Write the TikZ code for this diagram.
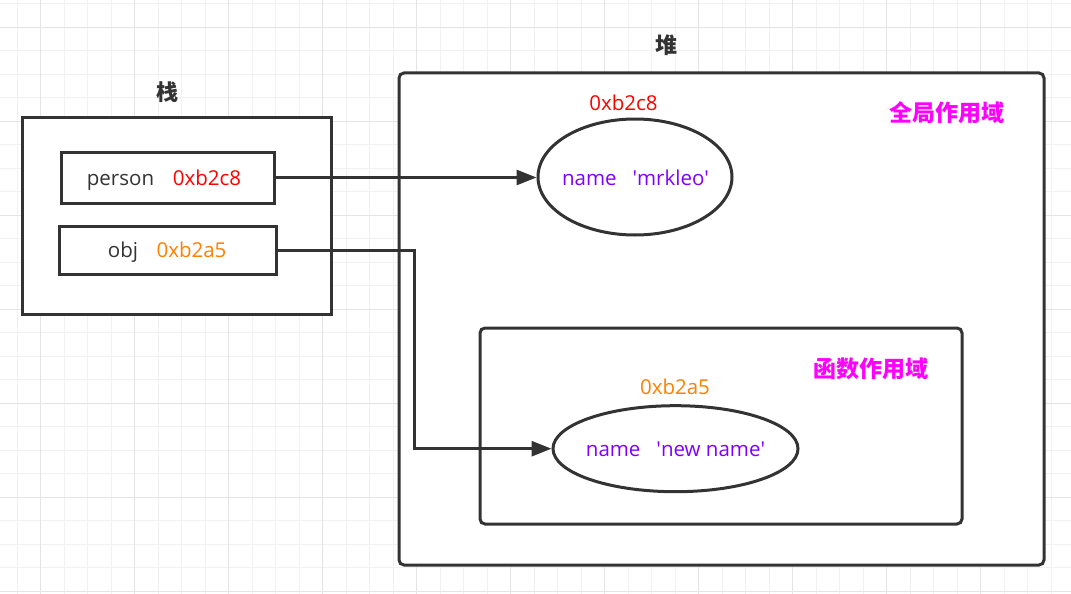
\documentclass[tikz,border=0pt]{standalone}
\usepackage{fontspec}
\setmainfont{Open Sans}
\newfontfamily\cjk{Noto Sans CJK SC}
\usetikzlibrary{arrows.meta,shapes.geometric}
\definecolor{linec}{HTML}{333333}
\definecolor{gridminor}{HTML}{F1F1F1}
\definecolor{gridmajor}{HTML}{E4E4E4}
\definecolor{addrred}{HTML}{FF0000}
\definecolor{addrorange}{HTML}{FF8000}
\definecolor{valpurple}{HTML}{7F00FF}
\definecolor{scopemag}{HTML}{FF00FF}
\tikzset{
  box/.style={draw=linec, line width=3pt, fill=white, inner sep=0pt},
  rbox/.style={box, rounded corners=5pt},
  oval/.style={ellipse, draw=linec, line width=3pt, fill=white, inner sep=0pt},
  lat/.style={font=\fontsize{20.5}{24}\selectfont, inner sep=0pt, text=linec, text height=15pt, text depth=0pt},
  head/.style={font=\cjk\bfseries\fontsize{22}{26}\selectfont, inner sep=0pt, text=linec},
  scopelbl/.style={font=\cjk\bfseries\fontsize{23}{27}\selectfont, inner sep=0pt, text=scopemag},
  conn/.style={draw=linec, line width=3pt, -{Triangle[length=20pt,width=15pt]}}
}
\begin{document}
\begin{tikzpicture}[x=1pt,y=-1pt]
\useasboundingbox (0,0) rectangle (1071,594);
\fill[white] (0,0) rectangle (1071,594);
% grid
\foreach \i in {0,...,45} {\draw[gridminor, line width=1pt] ({17.2+23.5*\i},0) -- ++(0,594);}
\foreach \i in {0,...,25} {\draw[gridminor, line width=1pt] (0,{3.8+23.5*\i}) -- ++(1071,0);}
\foreach \i in {0,...,11} {\draw[gridmajor, line width=1pt] ({40.7+94*\i},0) -- ++(0,594);}
\foreach \i in {0,...,6} {\draw[gridmajor, line width=1pt] (0,{27.3+94*\i}) -- ++(1071,0);}

% stack
\node[head] (stacklbl) at (167,92) {栈};
\node[box, minimum width=309pt, minimum height=197pt] (stack) at (176.5,215.5) {};
\node[box, minimum width=213pt, minimum height=51pt] (person) at (167.5,177.5) {};
\node[box, minimum width=217pt, minimum height=48pt] (obj) at (167.5,250) {};
\node[lat] (persontxt) at (120.5,178) {person};
\node[lat, text=addrred] (personaddr) at (207,178) {0xb2c8};
\node[lat] (objtxt) at (123,250) {obj};
\node[lat, text=addrorange] (objaddr) at (191.5,250) {0xb2a5};

% heap
\node[head] (heaplbl) at (666,45) {堆};
\node[rbox, minimum width=645pt, minimum height=492pt] (heap) at (721.5,319) {};
\node[scopelbl] (globallbl) at (947,113) {全局作用域};
\node[lat, text=addrred] (addr1) at (623.5,103) {0xb2c8};
\node[oval, minimum width=194pt, minimum height=116pt] (e1) at (635,177) {};
\node[lat, text=valpurple] (e1txt) at (635.5,178) {name\hspace{16pt}\textquotesingle mrkleo\textquotesingle};

\node[rbox, minimum width=482pt, minimum height=196pt] (fscope) at (721,426) {};
\node[scopelbl] (funclbl) at (870.5,369) {函数作用域};
\node[lat, text=addrorange] (addr2) at (675,387) {0xb2a5};
\node[oval, minimum width=245pt, minimum height=86pt] (e2) at (675.5,448.7) {};
\node[lat, text=valpurple] (e2txt) at (675.5,449) {name\hspace{16pt}\textquotesingle new name\textquotesingle};

% connectors
\coordinate (bend) at (414,448.7);
\draw[conn] (person.east) -- (person.east -| e1.west);
\draw[conn] (obj.east) -| (bend) -- (e2.west);
\end{tikzpicture}
\end{document}
